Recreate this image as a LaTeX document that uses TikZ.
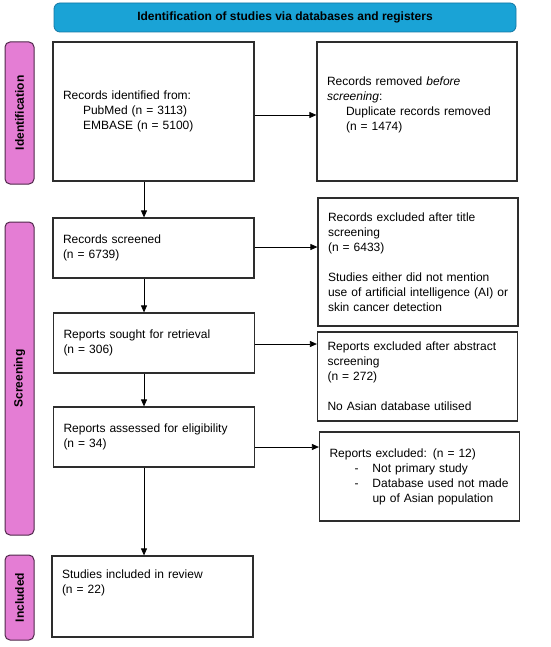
\documentclass[tikz,border=0pt]{standalone}
\usepackage{fontspec}
\setmainfont{Liberation Sans}
\usetikzlibrary{arrows.meta,calc}
\definecolor{bannerblue}{RGB}{26,163,214}
\definecolor{bannerdraw}{RGB}{20,120,165}
\definecolor{sidepink}{RGB}{228,125,212}
\definecolor{sidedraw}{RGB}{80,40,75}
\definecolor{boxdraw}{RGB}{45,45,45}
\tikzset{
  flowbox/.style={draw=boxdraw, line width=1.2pt, fill=white, rectangle,
    minimum width=#1, align=left, inner xsep=10pt, inner ysep=0pt,
    font=\fontsize{12}{15}\selectfont},
  leftbox/.style={flowbox=201pt, text width=181pt},
  rightbox/.style={flowbox=200pt, text width=180pt},
  sidelabel/.style={draw=sidedraw, line width=1pt, fill=sidepink, rounded corners=5pt,
    minimum width=29pt, inner sep=0pt, font=\fontsize{12}{14}\selectfont\bfseries},
  banner/.style={draw=bannerdraw, line width=0.8pt, fill=bannerblue, rounded corners=6pt,
    minimum width=462pt, minimum height=29pt, inner sep=0pt,
    font=\fontsize{12}{14}\selectfont\bfseries},
  arr/.style={draw=black, line width=0.8pt, -{Triangle[length=7pt,width=6pt]}}
}
\begin{document}
\begin{tikzpicture}[x=1pt,y=-1pt]
\useasboundingbox (0,0) rectangle (550,647);
\fill[white] (0,0) rectangle (550,647);

\node[banner] (ban) at (285,17.5) {Identification of studies via databases and registers};

\node[sidelabel, minimum height=142pt] (sid) at (19.5,113) {\rotatebox{90}{Identification}};
\node[sidelabel, minimum height=313pt] (ssc) at (19.5,378.5) {\rotatebox{90}{Screening}};
\node[sidelabel, minimum height=85pt] (sin) at (19.5,597.5) {\rotatebox{90}{Included}};

\node[leftbox, minimum height=139pt] (b1) at (153.5,111.5) {Records identified from:\\
\hspace*{20pt}PubMed (n = 3113)\\
\hspace*{20pt}EMBASE (n = 5100)};

\node[rightbox, minimum height=139pt] (b2) at (417,111.5) {Records removed \textit{before}\\
\textit{screening}:\\
\hspace*{19pt}Duplicate records removed\\
\hspace*{19pt}(n = 1474)\\ \mbox{}};

\node[leftbox, minimum height=60pt] (b3) at (153.5,248) {Records screened\\(n = 6739)};

\node[rightbox, minimum height=128pt] (b4) at (418,262) {Records excluded after title\\
screening\\
(n = 6433)\\[15pt]
Studies either did not mention\\
\makebox[180pt][l]{use of artificial intelligence (AI) or}\\
skin cancer detection};

\node[leftbox, minimum height=60pt] (b5) at (154,343) {Reports sought for retrieval\\(n = 306)};

\node[rightbox, minimum height=89pt] (b6) at (417.5,376.5) {Reports excluded after abstract\\
screening\\
(n = 272)\\[15pt]
No Asian database utilised};

\node[leftbox, minimum height=60pt] (b7) at (154,437) {Reports assessed for eligibility\\(n = 34)};

\node[rightbox, minimum height=89pt] (b8) at (419.5,476.5) {Reports excluded: (n = 12)\\
\hspace*{25pt}\makebox[18pt][l]{-}Not primary study\\
\hspace*{25pt}\makebox[18pt][l]{-}Database used not made\\
\hspace*{43pt}up of Asian population};

\node[leftbox, minimum height=81pt] (b9) at (152.5,596.5) {Studies included in review\\(n = 22)\\[15pt]\mbox{}};

% horizontal arrows
\draw[arr] ([yshift=-3.5pt]b1.east) -- ([yshift=-3.5pt]b1.east -| b2.west);
\draw[arr] ([yshift=1pt]b3.east) -- ([yshift=1pt]b3.east -| b4.west);
\draw[arr] ([yshift=-1pt]b5.east) -- ([yshift=-1pt]b5.east -| b6.west);
\draw[arr] ([yshift=-10pt]b7.east) -- ([yshift=-10pt]b7.east -| b8.west);

% vertical arrows
\draw[arr] ([xshift=-9.5pt]b1.south) -- ([xshift=-9.5pt]b1.south |- b3.north);
\draw[arr] ([xshift=-9.5pt]b3.south) -- ([xshift=-9.5pt]b3.south |- b5.north);
\draw[arr] ([xshift=-10pt]b5.south) -- ([xshift=-10pt]b5.south |- b7.north);
\draw[arr] ([xshift=-10pt]b7.south) -- ([xshift=-10pt]b7.south |- b9.north);
\end{tikzpicture}
\end{document}
